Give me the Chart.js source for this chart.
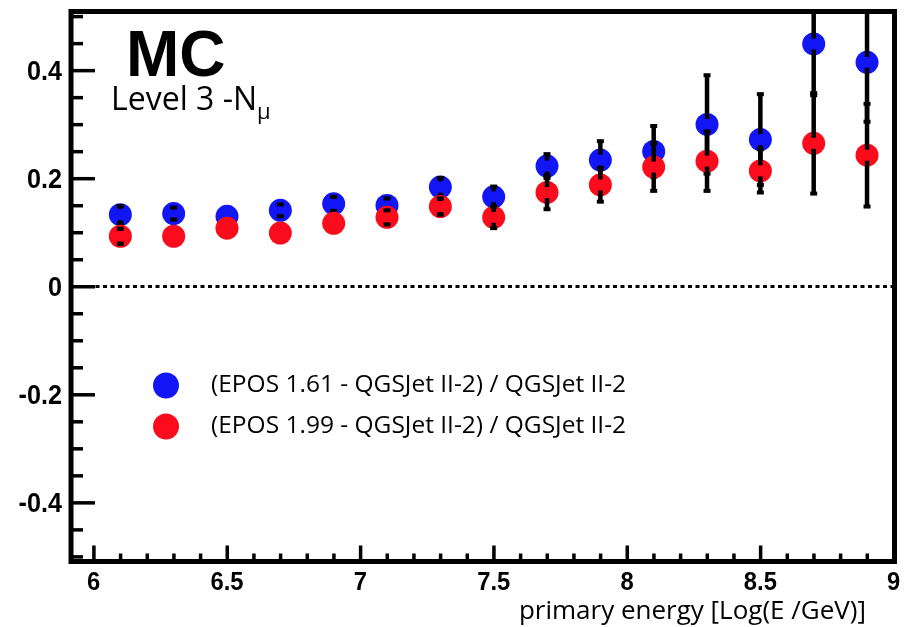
<!DOCTYPE html>
<html>
<head>
<meta charset="utf-8">
<script src="https://cdn.jsdelivr.net/npm/chart.js@4.4.1/dist/chart.umd.min.js"></script>
<style>
  html, body { margin: 0; padding: 0; background: #fff; }
  #wrap { width: 906px; height: 627px; }
</style>
</head>
<body>
<div id="wrap"><canvas id="c" width="906" height="627"></canvas></div>
<script>
// --- data ---
const energyBins = [6.1, 6.3, 6.5, 6.7, 6.9, 7.1, 7.3, 7.5, 7.7, 7.9, 8.1, 8.3, 8.5, 8.7, 8.9];
const epos161 = [0.133, 0.135, 0.130, 0.141, 0.153, 0.150, 0.184, 0.166, 0.223, 0.234, 0.250, 0.300, 0.272, 0.449, 0.415];
const epos161Err = [0.016, 0.011, 0.008, 0.011, 0.013, 0.013, 0.017, 0.019, 0.022, 0.035, 0.047, 0.091, 0.084, 0.095, 0.110];
const epos199 = [0.093, 0.093, 0.108, 0.099, 0.117, 0.128, 0.148, 0.128, 0.174, 0.188, 0.221, 0.232, 0.214, 0.265, 0.243];
const epos199Err = [0.014, 0.008, 0.008, 0.008, 0.008, 0.013, 0.015, 0.020, 0.031, 0.031, 0.044, 0.055, 0.040, 0.093, 0.095];
const seriesLabels = ['(EPOS 1.61 - QGSJet II-2) / QGSJet II-2', '(EPOS 1.99 - QGSJet II-2) / QGSJet II-2'];
const xTickValues = [6, 6.5, 7, 7.5, 8, 8.5, 9];
const yTickValues = [-0.4, -0.2, 0, 0.2, 0.4];

const BLUE = 'rgb(18, 22, 245)';
const RED = 'rgb(250, 12, 28)';
const MARKER_R = 11.5;
const ERR_GAP = 5.5;   // error bar starts this far from the point centre
const textFamily = '"Open Sans", "Liberation Sans", sans-serif';

function toPoints(xs, ys, errs) {
    return xs.map((x, i) => ({ x: x, y: ys[i], err: errs[i] }));
}

// squeezed bold text like the ROOT axis labels
function squeezedText(ctx, str, x, y, size, sx, align) {
    ctx.save();
    ctx.font = 'bold ' + size + 'px "Liberation Sans", Arial, sans-serif';
    const w = ctx.measureText(str).width * sx;
    let left = x;
    if (align === 'right') left = x - w;
    else if (align === 'center') left = x - w / 2;
    ctx.translate(left, y);
    ctx.scale(sx, 1);
    ctx.textAlign = 'left';
    ctx.fillText(str, 0, 0);
    ctx.restore();
}

const rootStyle = {
    id: 'rootStyle',
    beforeDatasetsDraw(chart) {
        // dotted zero line
        const ctx = chart.ctx, area = chart.chartArea;
        const y0 = chart.scales.y.getPixelForValue(0);
        ctx.save();
        ctx.strokeStyle = '#000';
        ctx.lineWidth = 3;
        ctx.setLineDash([4, 3.5]);
        ctx.beginPath();
        ctx.moveTo(area.left + 2, y0);
        ctx.lineTo(area.right, y0);
        ctx.stroke();
        ctx.restore();
    },
    afterDatasetDraw(chart, args) {
        // error bars of this series, drawn over its own markers
        const ctx = chart.ctx, area = chart.chartArea;
        const xs = chart.scales.x, ys = chart.scales.y;
        const ds = chart.data.datasets[args.index];
        ctx.save();
        ctx.beginPath();
        ctx.rect(area.left, area.top, area.right - area.left, area.bottom - area.top);
        ctx.clip();
        ctx.fillStyle = '#000';
        ds.data.forEach(p => {
            const px = xs.getPixelForValue(p.x);
            const py = ys.getPixelForValue(p.y);
            const yTop = ys.getPixelForValue(p.y + p.err);
            const yBot = ys.getPixelForValue(p.y - p.err);
            if (py - yTop <= ERR_GAP) return;
            ctx.fillRect(px - 2.25, yTop, 4.5, py - ERR_GAP - yTop);
            ctx.fillRect(px - 2.25, py + ERR_GAP, 4.5, yBot - py - ERR_GAP);
            ctx.fillRect(px - 3.5, yTop - 2, 7, 4);
            ctx.fillRect(px - 3.5, yBot - 2, 7, 4);
        });
        ctx.restore();
    },
    afterDatasetsDraw(chart) {
        const ctx = chart.ctx;
        const area = chart.chartArea;
        const xs = chart.scales.x, ys = chart.scales.y;

        ctx.save();
        ctx.fillStyle = '#000';
        // y ticks: major every 0.2, minor every 0.05
        for (let k = -10; k <= 10; k++) {
            const py = ys.getPixelForValue(k * 0.05);
            if (py < area.top + 3 || py > area.bottom - 3) continue;
            const len = (k % 4 === 0) ? 24 : 12;
            ctx.fillRect(area.left, py - 1.5, len, 3.5);
        }
        // x ticks: major every 0.5, minor every 0.1
        for (let k = 59; k <= 90; k++) {
            const px = xs.getPixelForValue(k / 10);
            if (px < area.left + 3 || px > area.right - 3) continue;
            const len = (k % 5 === 0) ? 16 : 8;
            ctx.fillRect(px - 1.5, area.bottom - len, 3.5, len);
        }
        // frame
        ctx.strokeStyle = '#000';
        ctx.lineWidth = 5;
        ctx.strokeRect(area.left, area.top, area.right - area.left, area.bottom - area.top);

        // tick labels from the scales
        ctx.textBaseline = 'middle';
        ys.ticks.forEach(t => {
            squeezedText(ctx, String(t.value), 62, ys.getPixelForValue(t.value) + 2, 28, 0.9, 'right');
        });
        ctx.textBaseline = 'top';
        xs.ticks.forEach(t => {
            squeezedText(ctx, String(t.value), xs.getPixelForValue(t.value), 571, 25, 0.95, 'center');
        });

        // texts
        ctx.textBaseline = 'alphabetic';
        ctx.textAlign = 'left';
        ctx.font = 'bold 64px "Liberation Sans", Arial, sans-serif';
        ctx.fillText('MC', 126, 76);
        ctx.font = '32px ' + textFamily;
        ctx.fillText('Level 3 -N', 111, 110);
        const w = ctx.measureText('Level 3 -N').width;
        ctx.font = '22px ' + textFamily;
        ctx.fillText('\u03bc', 111 + w, 119);

        ctx.textAlign = 'right';
        ctx.font = '26px ' + textFamily;
        ctx.fillText('primary energy [Log(E /GeV)]', 866, 619);

        // legend
        ctx.textAlign = 'left';
        ctx.textBaseline = 'middle';
        ctx.font = '24.5px ' + textFamily;
        chart.data.datasets.forEach((ds, i) => {
            const ly = 385.5 + i * 41;
            ctx.fillStyle = ds.backgroundColor;
            ctx.beginPath();
            ctx.arc(166, ly, 13, 0, Math.PI * 2);
            ctx.fill();
            ctx.fillStyle = '#000';
            ctx.fillText(ds.label, 211, ly);
        });
        ctx.restore();
    }
};

new Chart(document.getElementById('c'), {
    type: 'scatter',
    data: {
        datasets: [
            {
                label: seriesLabels[0],
                data: toPoints(energyBins, epos161, epos161Err),
                backgroundColor: BLUE,
                borderWidth: 0,
                pointRadius: MARKER_R,
                pointHoverRadius: MARKER_R,
                order: 1
            },
            {
                label: seriesLabels[1],
                data: toPoints(energyBins, epos199, epos199Err),
                backgroundColor: RED,
                borderWidth: 0,
                pointRadius: MARKER_R,
                pointHoverRadius: MARKER_R,
                order: 0
            }
        ]
    },
    plugins: [rootStyle],
    options: {
        responsive: false,
        animation: false,
        events: [],
        layout: { padding: { top: 6.5, right: 11.5, left: 0, bottom: 0 } },
        plugins: { legend: { display: false }, tooltip: { enabled: false } },
        scales: {
            x: {
                type: 'linear',
                min: 5.915,
                max: 9.003,
                border: { display: false },
                grid: { display: false, drawTicks: false },
                ticks: { display: false },
                afterBuildTicks: scale => { scale.ticks = xTickValues.map(v => ({ value: v })); },
                afterFit: scale => {
                    scale.height = 65.5;
                    scale.paddingLeft = 0;
                    scale.paddingRight = 0;
                }
            },
            y: {
                min: -0.509,
                max: 0.509,
                border: { display: false },
                grid: { display: false, drawTicks: false },
                ticks: { display: false },
                afterBuildTicks: scale => { scale.ticks = yTickValues.map(v => ({ value: v })); },
                afterFit: scale => {
                    scale.width = 71;
                    scale.paddingTop = 0;
                    scale.paddingBottom = 0;
                }
            }
        }
    }
});
</script>
</body>
</html>
